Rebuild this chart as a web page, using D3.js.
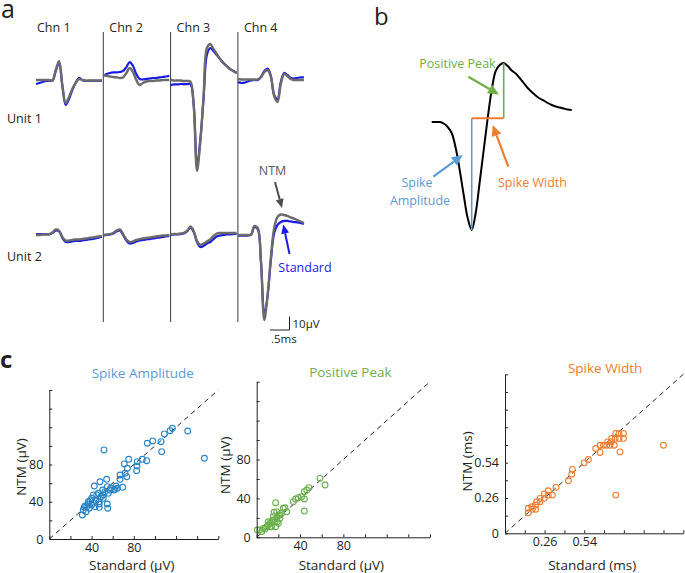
<!DOCTYPE html>
<html>
<head>
<meta charset="utf-8">
<script src="https://cdn.jsdelivr.net/npm/d3@7"></script>
<style>
  body { margin: 0; background: #fff; }
  svg { display: block; font-family: 'Open Sans', 'Noto Sans', sans-serif; }
</style>
</head>
<body>
<div id="chart"></div>
<script>
// ---- panel a: mean waveforms (uV), 21 samples per channel ----
var channelNames = ['Chn 1', 'Chn 2', 'Chn 3', 'Chn 4'];
var unitNames = ['Unit 1', 'Unit 2'];

var unit1Standard = [
  [-3, -2.2, -1.5, -0.7, -0.4, -0.4, 6.7, 12.6, -4.4, -18.5, -14.1, -7.4, -2.2, 1.5, 0, -0.7, -0.7, -0.7, -0.7, -0.7, -0.7],
  [3, 4.4, 5.2, 5.6, 5.6, 5.9, 6.7, 9.6, 13.3, 10.4, 4.4, 0.7, 0.4, 0.7, 1.1, 1.5, 1.5, 1.9, 2.2, 2.6, 3],
  [-3.7, -3.3, -3.3, -3, -3, -3, -3, -18.5, -63.7, -44.4, -13.3, 18.5, 23.7, 21.5, 18.5, 15.6, 12.6, 10.4, 8.1, 6.7, 5.2],
  [-1.5, -2.2, -1.9, -1.1, -0.4, 0, 0, 2.2, 6.7, 8.5, 3, -11.1, -14.1, -1.5, 5.2, 3.7, 1.5, 1.1, 1.5, 1.9, 1.9]
];
var unit1Ntm = [
  [0, 0, 0, 0, 0, -0.4, 7.4, 14.1, -4.4, -17, -12.6, -6.7, -2.2, 0.7, 0, -0.4, -0.4, -0.4, -0.4, -0.4, -0.4],
  [3.7, 3, 2.6, 2.2, 1.9, 1.5, 1.9, 5.2, 8.9, 5.9, 0, -3.7, -2.2, -1.1, -0.7, -0.7, -0.4, -0.4, 0, 0, 0],
  [0, -0.4, -0.4, -0.4, -0.7, -0.7, -1.1, -18.5, -67.4, -45.9, -11.9, 23.7, 26.7, 23, 19.3, 15.6, 12.6, 10.4, 8.1, 6.7, 5.2],
  [0.7, 0.4, 0.4, 0.4, 0.4, 0.4, 0.4, 2.2, 5.9, 7.4, 2.2, -11.9, -16.3, -3, 4.4, 3, 0.7, 0, 0, 0, 0]
];
var unit2Standard = [
  [0.7, 0.7, 0.7, 0.7, 0.4, 1.5, 3.3, 2.6, -2.2, -5.2, -5.2, -4.8, -4.4, -4.4, -4.1, -3.7, -3.3, -3, -2.6, -1.9, -1.5],
  [-0.4, 0, 0.4, 1.1, 2.6, 3.3, 0, -4.1, -6.3, -5.9, -4.8, -4.1, -3.7, -3.3, -3, -2.6, -2.2, -1.9, -1.5, -1.1, -0.7],
  [0, 0.4, 0.4, 0.7, 1.1, 2.6, 5.6, 2.2, -5.2, -8.9, -8.1, -6.3, -5.2, -3, -1.1, -0.4, 0, 0.4, 0.4, 0.7, 0.7],
  [-0.4, -0.4, -0.4, -0.4, 0, 5.9, 4.4, -20, -59.3, -45.2, -18.5, 1.5, 7.4, 9.6, 10.4, 10.4, 10, 9.6, 9.4, 8.9, 8.1]
];
var unit2Ntm = [
  [0, 0, 0.4, 0.4, 0.7, 1.9, 4.1, 3.3, -1.5, -4.1, -4.1, -3.7, -3.3, -3.3, -3, -2.6, -2.2, -1.9, -1.5, -1.1, -0.7],
  [0, 0.4, 0.7, 1.5, 3.3, 4.1, 0.7, -3.3, -5.2, -4.8, -3.7, -3, -2.6, -2.2, -1.9, -1.5, -1.1, -0.7, -0.4, -0.4, 0],
  [0.4, 0.7, 0.7, 1.1, 1.5, 3, 6.3, 3, -4.4, -7.4, -6.3, -4.8, -3.3, -0.7, 1.1, 1.5, 1.5, 1.5, 1.5, 1.5, 1.5],
  [0, 0, 0, 0, 0.4, 6.7, 5.2, -20, -63, -44.4, -16.3, 5.2, 13.3, 15.2, 14.8, 14.1, 13, 12.2, 11.1, 10, 8.9]
];
var scaleBarUv = 10;
var scaleBarMs = 0.5;

// ---- panel b: schematic spike ----
var schematicSpike = [0, 0, 0, -1.5, -5, -11, -26, -48, -73, -96, -108, -91, -60, -28, 4, 32, 51, 57, 59, 56,
  51.5, 48.5, 44, 39, 34, 30, 26.5, 23.5, 21.5, 19, 17, 15.5, 14.5, 13.5, 12.5, 12];
var schematicTrough = 10;
var schematicPeak = 18;
var schematicLevel = 3.7;

// ---- panel c: Standard vs NTM ----
var amplitudeStd = [51.8, 131, 146.8, 116.5, 114.3, 108.9, 105.8, 106.4, 97.9, 92.8, 92.2, 88.1, 83.3, 83, 82.7, 75.2,
  73.9, 73.3, 71, 71.7, 67, 67, 69.5, 63.2, 62.2, 57.5, 54.9, 54.3, 55.9, 52.7, 51.1, 50.5, 48, 46.4, 42.6, 41.7,
  40.1, 38.5, 41.7, 44.2, 47.3, 47.3, 54.9, 55.3, 51.1, 36.9, 35.4, 33.8, 32.2, 31.3, 34.8, 37.9, 44.9, 49, 40.1,
  43.3, 64.4, 61.3, 58.1, 47.3, 36.9, 33.1];
var amplitudeNtm = [95.6, 116, 86.7, 118.9, 116.3, 112.8, 104.5, 93.8, 105.3, 102.8, 84.1, 85.6, 83, 78.4, 73.4, 85.6,
  75.9, 66.9, 80.6, 70.6, 68.7, 64.1, 55.5, 56.9, 53.4, 52.6, 56.2, 64.1, 49.1, 50.8, 47.3, 52.6, 61.5, 49.1, 56.9,
  47.3, 43.7, 41.1, 38.3, 41.1, 37.6, 34, 37.6, 33, 43.7, 37.6, 34.7, 35.4, 31.1, 25.8, 29.3, 33, 47.3, 45.4, 36.5,
  34.7, 54.5, 52.6, 54.5, 40.1, 40.1, 34];
var peakStd = [58.4, 63.1, 48.3, 46.2, 44, 41.5, 38.4, 36, 33.8, 44, 44, 17.5, 26.1, 27.7, 23.1, 20, 18.5, 16.9, 15.3,
  13.8, 12.3, 10.7, 9.2, 6.1, 3, 0.5, 4.6, 17.5, 20, 21.5, 13.8, 18.5, 21.5, 15.3, 7.7, 24.6, 10.7, 16, 19, 12.3];
var peakNtm = [60.6, 53.8, 51, 48.6, 46.9, 41.7, 40.7, 39.4, 36.6, 39.4, 27, 35.6, 30.4, 26.3, 24.7, 22.9, 19.5, 16,
  17.8, 16, 14.4, 12.6, 10.9, 9.2, 7.5, 7.5, 5.8, 10.9, 14.4, 19.5, 10.9, 26.3, 22.9, 21.2, 8.5, 29.8, 16, 25.7, 16, 10.9];
var widthStd = [1.08, 0.755, 0.784, 0.807, 0.807, 0.777, 0.777, 0.755, 0.75, 0.727, 0.723, 0.745, 0.716, 0.7, 0.693,
  0.671, 0.648, 0.648, 0.618, 0.568, 0.539, 0.459, 0.455, 0.432, 0.348, 0.323, 0.295, 0.295, 0.268, 0.268, 0.239,
  0.239, 0.216, 0.209, 0.209, 0.182, 0.159, 0.159, 0.186];
var widthNtm = [0.673, 0.292, 0.622, 0.763, 0.725, 0.763, 0.725, 0.763, 0.725, 0.725, 0.699, 0.673, 0.673, 0.699,
  0.673, 0.673, 0.673, 0.618, 0.648, 0.564, 0.538, 0.488, 0.452, 0.401, 0.351, 0.292, 0.325, 0.292, 0.3, 0.267,
  0.267, 0.241, 0.241, 0.216, 0.183, 0.203, 0.191, 0.157, 0.183];

var uvTicks = [0, 20, 40, 60, 80, 100, 120, 140, 160];
var uvXLabels = ['', '', '40', '', '80', '', '', '', ''];
var uvYLabels = ['0', '', '40', '', '80', '', '', '', ''];
var msTicks = [0, 0.135, 0.27, 0.405, 0.54, 0.675, 0.81, 0.945, 1.08, 1.215];
var msXLabels = ['', '', '0.26', '', '0.54', '', '', '', '', ''];
var msYLabels = ['0', '', '0.26', '', '0.54', '', '', '', '', ''];

(function() {
  'use strict';

  var BLUE = '#1a1ae6';
  var GRAY = '#6b6b6b';
  var TXT = '#231f20';

  var svg = d3.select('#chart').append('svg').attr('width', 685).attr('height', 573);

  function arrow(x1, y1, x2, y2, color, width, headLen, headW) {
    var a = Math.atan2(y2 - y1, x2 - x1);
    var bx = x2 - headLen * Math.cos(a), by = y2 - headLen * Math.sin(a);
    var px = -Math.sin(a) * headW / 2, py = Math.cos(a) * headW / 2;
    svg.append('line').attr('x1', x1).attr('y1', y1).attr('x2', bx).attr('y2', by)
        .attr('stroke', color).attr('stroke-width', width);
    svg.append('path')
        .attr('d', 'M' + x2 + ',' + y2 + 'L' + (bx + px) + ',' + (by + py) + 'L' + (bx - px) + ',' + (by - py) + 'Z')
        .attr('fill', color);
  }

  function label(x, y, str, size, color, anchor, weight) {
    return svg.append('text').attr('x', x).attr('y', y).text(str)
        .attr('font-size', size).attr('fill', color)
        .attr('text-anchor', anchor || 'start').attr('font-weight', weight || 400);
  }

  // ===== panel a =====
  label(1, 18, 'a', 25, TXT);
  var chnX = d3.scaleLinear().domain([0, 4]).range([36, 305.2]);
  var sampleX = d3.scaleLinear().domain([0, 20]).range([0, 66]);
  var uvY = d3.scaleLinear().domain([0, 10]).range([0, -13.5]);
  var msX = d3.scaleLinear().domain([0, 0.5]).range([0, 19.5]);
  var unitBase = [80, 235];
  var units = [[unit1Standard, unit1Ntm], [unit2Standard, unit2Ntm]];

  channelNames.forEach(function(name, i) {
    label(chnX(i) + (i === 0 ? 1 : 6), 31.5, name, 12.5, TXT);
    if (i > 0) {
      svg.append('line').attr('x1', chnX(i)).attr('x2', chnX(i)).attr('y1', 32).attr('y2', 322)
          .attr('stroke', '#3a3a3a').attr('stroke-width', 1);
    }
  });

  units.forEach(function(pair, k) {
    label(7, k === 0 ? 123 : 261, unitNames[k], 12.5, TXT);
    var g = svg.append('g').attr('transform', 'translate(0,' + unitBase[k] + ')');
    [[pair[0], BLUE, 2.2], [pair[1], GRAY, 2.4]].forEach(function(s) {
      s[0].forEach(function(vals, ch) {
        var line = d3.line()
            .x(function(d, i) { return chnX(ch) + sampleX(i); })
            .y(function(d) { return uvY(d); })
            .curve(d3.curveCatmullRom.alpha(0.5));
        g.append('path').datum(vals).attr('d', line)
            .attr('fill', 'none').attr('stroke', s[1]).attr('stroke-width', s[2])
            .attr('stroke-linejoin', 'round');
      });
    });
  });

  // scale bar
  var sbX = 289.5, sbY = 330;
  svg.append('path')
      .attr('d', 'M' + (sbX - msX(scaleBarMs)) + ',' + sbY + 'H' + sbX + 'V' + (sbY + uvY(scaleBarUv)))
      .attr('fill', 'none').attr('stroke', TXT).attr('stroke-width', 1);
  label(292.5, 327.5, scaleBarUv + 'µV', 11.5, TXT);
  label(271, 343, String(scaleBarMs).replace('0.', '.') + 'ms', 11.5, TXT);

  label(272.5, 175, 'NTM', 12.5, '#5a5a5a', 'middle');
  arrow(275, 182, 282, 208, '#4d4d4d', 2, 9, 8);
  label(305, 272, 'Standard', 12.5, BLUE, 'middle');
  arrow(289.5, 254, 283.3, 224.5, BLUE, 2, 9, 8);

  // ===== panel b =====
  label(374, 25, 'b', 24, TXT);
  var bx = d3.scaleLinear().domain([0, schematicSpike.length - 1]).range([431.7, 571.7]);
  var by = d3.scaleLinear().domain([0, -100]).range([122, 222]);
  svg.append('path').datum(schematicSpike)
      .attr('d', d3.line().x(function(d, i) { return bx(i); }).y(function(d) { return by(d); })
          .curve(d3.curveCatmullRom.alpha(0.5)))
      .attr('fill', 'none').attr('stroke', '#000').attr('stroke-width', 2);
  var tX = bx(schematicTrough), pX = bx(schematicPeak), lvY = by(schematicLevel);
  svg.append('line').attr('x1', tX).attr('x2', tX).attr('y1', lvY).attr('y2', by(schematicSpike[schematicTrough]))
      .attr('stroke', '#5b9bd5').attr('stroke-width', 1.6);
  svg.append('line').attr('x1', pX).attr('x2', pX).attr('y1', lvY).attr('y2', by(schematicSpike[schematicPeak]))
      .attr('stroke', '#70ad47').attr('stroke-width', 1.6);
  svg.append('line').attr('x1', tX).attr('x2', pX).attr('y1', lvY).attr('y2', lvY)
      .attr('stroke', '#ed7d31').attr('stroke-width', 2);

  label(457.5, 68, 'Positive Peak', 12.5, '#70ad47', 'middle');
  arrow(468.3, 76.7, 499, 94.5, '#70ad47', 2.2, 11, 10);
  label(532.5, 187, 'Spike Width', 12.5, '#ed7d31', 'middle');
  arrow(508.3, 166.7, 492.7, 125, '#ed7d31', 2.2, 11, 10);
  label(417, 187, 'Spike', 12.5, '#5b9bd5', 'middle');
  label(420, 204.5, 'Amplitude', 12.5, '#5b9bd5', 'middle');
  arrow(433.3, 176.7, 462.7, 155, '#5b9bd5', 2.2, 11, 10);

  // ===== panel c =====
  label(0, 368, 'c', 24, TXT, 'start', 700);

  function scatter(cfg) {
    var x = d3.scaleLinear().domain(cfg.domain).range([cfg.left, cfg.right]);
    var y = d3.scaleLinear().domain(cfg.domain).range([cfg.bottom, cfg.top]);
    var g = svg.append('g');

    g.append('line')
        .attr('x1', x(cfg.domain[0])).attr('y1', y(cfg.domain[0]))
        .attr('x2', x(cfg.domain[1])).attr('y2', y(cfg.domain[1]))
        .attr('stroke', '#222').attr('stroke-width', 1).attr('stroke-dasharray', '5,4');

    g.selectAll('circle')
        .data(d3.zip(cfg.std, cfg.ntm))
        .enter()
        .append('circle')
        .attr('cx', function(d) { return x(d[0]); })
        .attr('cy', function(d) { return y(d[1]); })
        .attr('r', 2.9)
        .attr('fill', 'none')
        .attr('stroke', cfg.color)
        .attr('stroke-width', 1.1);

    var xAxis = d3.axisBottom(x).tickValues(cfg.ticks).tickSize(-3).tickSizeOuter(0).tickPadding(4)
        .tickFormat(function(d, i) { return cfg.xLabels[i]; });
    var yAxis = d3.axisLeft(y).tickValues(cfg.ticks).tickSize(-3).tickSizeOuter(0).tickPadding(6)
        .tickFormat(function(d, i) { return cfg.yLabels[i]; });
    [g.append('g').attr('transform', 'translate(0,' + cfg.bottom + ')').call(xAxis),
     g.append('g').attr('transform', 'translate(' + cfg.left + ',0)').call(yAxis)].forEach(function(a) {
      a.selectAll('path, line').attr('stroke', '#222');
      a.selectAll('text').attr('font-size', 12.5).attr('fill', TXT)
          .attr('font-family', "'Open Sans', 'Noto Sans', sans-serif");
    });

    label((cfg.left + cfg.right) / 2 + cfg.titleDx, cfg.titleY, cfg.title, 13.5, cfg.titleColor, 'middle');
    label((cfg.left + cfg.right) / 2 - 2, 569.5, cfg.xTitle, 13.5, TXT, 'middle');
    svg.append('text')
        .attr('transform', 'translate(' + cfg.yTitleX + ',' + (cfg.bottom - 72) + ') rotate(-90)')
        .attr('text-anchor', 'middle').attr('font-size', 13.5).attr('fill', TXT)
        .text(cfg.yTitle);
  }

  scatter({
    domain: [0, 160], left: 49.3, right: 218.3, top: 390, bottom: 539,
    std: amplitudeStd, ntm: amplitudeNtm, color: '#2a84c6',
    ticks: uvTicks, xLabels: uvXLabels, yLabels: uvYLabels,
    title: 'Spike Amplitude', titleColor: '#5b9bd5', titleY: 378, titleDx: 9,
    xTitle: 'Standard (µV)', yTitle: 'NTM (µV)', yTitleX: 26
  });
  scatter({
    domain: [0, 160], left: 256.7, right: 430, top: 381.7, bottom: 537.3,
    std: peakStd, ntm: peakNtm, color: '#6ab04c',
    ticks: uvTicks, xLabels: uvXLabels, yLabels: uvYLabels,
    title: 'Positive Peak', titleColor: '#70ad47', titleY: 377, titleDx: 7,
    xTitle: 'Standard (µV)', yTitle: 'NTM (µV)', yTitleX: 230
  });
  scatter({
    domain: [0, 1.215], left: 505, right: 683.3, top: 374.3, bottom: 533.3,
    std: widthStd, ntm: widthNtm, color: '#ed7d31',
    ticks: msTicks, xLabels: msXLabels, yLabels: msYLabels,
    title: 'Spike Width', titleColor: '#ed7d31', titleY: 372.5, titleDx: 11,
    xTitle: 'Standard (ms)', yTitle: 'NTM (ms)', yTitleX: 471.5
  });
}).call();
</script>
</body>
</html>
